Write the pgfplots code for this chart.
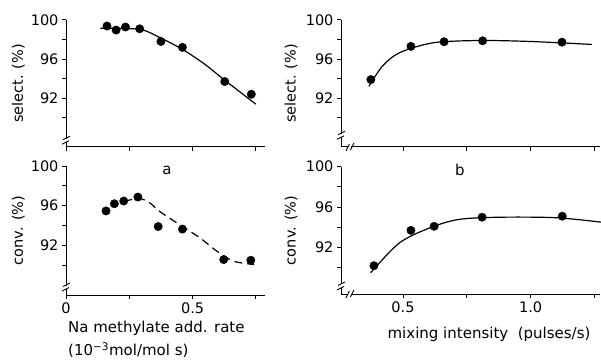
\documentclass[border=0pt]{standalone}
\usepackage{pgfplots}
\pgfplotsset{compat=1.18}
\usepackage{fontspec}
\setmainfont{DejaVu Sans}

\pgfplotsset{
  myax/.style={
    scale only axis,
    axis lines*=left,
    anchor=south west,
    tick align=outside,
    major tick length=4pt, minor tick length=4pt,
    ymin=87, ymax=100,
    ytick={92,96,100}, yticklabels={92,96,100},
    minor ytick={90,94,98},
    every tick/.style={black, line width=1pt},
    axis line style={line width=1pt},
    tick label style={font=\fontsize{14.5}{16}\selectfont},
    label style={font=\fontsize{14.5}{16}\selectfont},
    /pgf/number format/assume math mode=true,
    clip=false,
  },
  pts/.style={only marks, mark=*, mark size=4.2pt, black},
  crv/.style={no marks, smooth, black, line width=1.2pt},
}

\begin{document}
\begin{tikzpicture}
\useasboundingbox (0pt,0pt) rectangle (601pt,-363pt);

% top left
\begin{axis}[myax, at={(66pt,-147pt)}, width=199pt, height=127pt,
  xmin=0, xmax=0.786, xtick={0,0.25,0.5,0.75}, xticklabels={,,,},
  ylabel={select. (\%)}, ylabel style={at={(axis description cs:-0.24,0.5)}, anchor=center}]
\addplot[pts] coordinates {(0.162,99.38) (0.198,98.97) (0.235,99.28) (0.291,99.1) (0.375,97.8) (0.46,97.2) (0.627,93.7) (0.732,92.4)};
\addplot[crv] coordinates {(0.136,99.15) (0.291,99.04) (0.371,98.2) (0.46,96.99) (0.544,95.55) (0.627,93.84) (0.75,91.38)};
\draw[white, line width=3pt, shift={(axis cs:0,87.7)}] (0pt,-1.5pt) -- (0pt,1.5pt);
\draw[line width=0.9pt, shift={(axis cs:0,87.7)}] (-4pt,-4pt)--(3pt,-0.5pt) (-3pt,0.5pt)--(4pt,4pt);
\end{axis}

% bottom left
\begin{axis}[myax, at={(66pt,-295pt)}, width=199pt, height=129pt,
  xmin=0, xmax=0.786, xtick={0,0.25,0.5,0.75}, xticklabels={0,,0.5,},
  ylabel={conv. (\%)}, ylabel style={at={(axis description cs:-0.24,0.5)}, anchor=center}]
\addplot[pts] coordinates {(0.158,95.47) (0.191,96.2) (0.228,96.47) (0.284,96.87) (0.364,93.9) (0.46,93.64) (0.623,90.57) (0.73,90.5)};
\addplot[crv, dash pattern=on 8pt off 5pt] coordinates {(0.23,96.45) (0.29,96.72) (0.33,96.3) (0.371,95.4) (0.45,94.07) (0.53,92.74) (0.597,91.4) (0.663,90.4) (0.743,90.07)};
\draw[white, line width=3pt, shift={(axis cs:0,87.8)}] (0pt,-1.5pt) -- (0pt,1.5pt);
\draw[line width=0.9pt, shift={(axis cs:0,87.8)}] (-4pt,-4pt)--(3pt,-0.5pt) (-3pt,0.5pt)--(4pt,4pt);
\end{axis}

% top right
\begin{axis}[myax, at={(341pt,-147pt)}, width=259pt, height=127pt,
  xmin=0.257, xmax=1.272, xtick={0.5,0.75,1,1.25}, xticklabels={,,,},
  ylabel={select. (\%)}, ylabel style={at={(axis description cs:-0.193,0.5)}, anchor=center}]
\addplot[pts] coordinates {(0.374,93.9) (0.531,97.3) (0.661,97.77) (0.812,97.87) (1.123,97.73)};
\addplot[crv] coordinates {(0.366,93.2) (0.42,95.3) (0.488,96.67) (0.619,97.67) (0.8,97.9) (1.0,97.8) (1.24,97.5)};
\draw[white, line width=3pt, shift={(axis cs:0.257,88.2)}] (0pt,-1.5pt) -- (0pt,1.5pt);
\draw[line width=0.9pt, shift={(axis cs:0.257,88.2)}] (-4pt,-4pt)--(3pt,-0.5pt) (-3pt,0.5pt)--(4pt,4pt);
\draw[white, line width=3pt, shift={(axis cs:0.292,87)}] (-1.5pt,0pt) -- (1.5pt,0pt);
\draw[line width=0.9pt, shift={(axis cs:0.292,87)}] (-4pt,-4pt)--(-0.5pt,3pt) (0.5pt,-3pt)--(4pt,4pt);
\end{axis}

% bottom right
\begin{axis}[myax, at={(341pt,-294pt)}, width=259pt, height=127.3pt,
  ymin=87.4,
  xmin=0.257, xmax=1.272, xtick={0.5,0.75,1,1.25}, xticklabels={0.5,,1.0,},
  ylabel={conv. (\%)}, ylabel style={at={(axis description cs:-0.193,0.5)}, anchor=center}]
\addplot[pts] coordinates {(0.386,90.2) (0.531,93.7) (0.622,94.1) (0.81,95.0) (1.124,95.1)};
\addplot[crv] coordinates {(0.373,89.5) (0.488,92.5) (0.618,94.07) (0.724,94.8) (0.88,95.0) (1.1,94.95) (1.28,94.5)};
\draw[white, line width=3pt, shift={(axis cs:0.257,88.2)}] (0pt,-1.5pt) -- (0pt,1.5pt);
\draw[line width=0.9pt, shift={(axis cs:0.257,88.2)}] (-4pt,-4pt)--(3pt,-0.5pt) (-3pt,0.5pt)--(4pt,4pt);
\draw[white, line width=3pt, shift={(axis cs:0.292,87.4)}] (-1.5pt,0pt) -- (1.5pt,0pt);
\draw[line width=0.9pt, shift={(axis cs:0.292,87.4)}] (-4pt,-4pt)--(-0.5pt,3pt) (0.5pt,-3pt)--(4pt,4pt);
\end{axis}

\node[font=\fontsize{15}{16}\selectfont] at (167pt,-170pt) {a};
\node[font=\fontsize{15}{16}\selectfont] at (460pt,-170pt) {b};
\node[font=\fontsize{15}{23}\selectfont, anchor=north west, align=left, inner sep=0pt] at (68pt,-321pt) {Na methylate add. rate\\(10\textsuperscript{−3}mol/mol s)};
\node[font=\fontsize{15}{16}\selectfont, anchor=north, inner sep=0pt] at (489pt,-327pt) {mixing intensity\ \ (pulses/s)};
\end{tikzpicture}
\end{document}
